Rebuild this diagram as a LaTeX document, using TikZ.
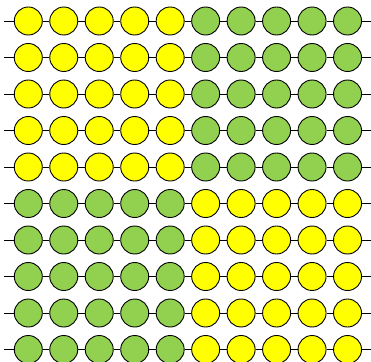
\documentclass[tikz,border=0pt]{standalone}
\definecolor{dotyellow}{HTML}{FFFF00}
\definecolor{dotgreen}{HTML}{92D050}
\begin{document}
\begin{tikzpicture}[x=1pt,y=-1pt,
  dot/.style={circle,draw=black,line width=0.9pt,minimum size=28pt,inner sep=0pt},
  ydot/.style={dot,fill=dotyellow},
  gdot/.style={dot,fill=dotgreen},
  wire/.style={draw=black,line width=0.9pt}]
\useasboundingbox (0,0) rectangle (371,361);
\foreach \r in {1,...,10}{
  \pgfmathsetmacro{\yy}{21+36.5*(\r-1)}
  \coordinate (s\r) at (4,\yy);
  \coordinate (e\r) at (372,\yy);
  \foreach \c in {1,...,10}{
    \pgfmathsetmacro{\xx}{28.3+35.47*(\c-1)}
    \pgfmathtruncatemacro{\isy}{(\r<6 && \c<6) || (\r>5 && \c>5) ? 1 : 0}
    \ifnum\isy=1
      \node[ydot] (n\r-\c) at (\xx,\yy) {};
    \else
      \node[gdot] (n\r-\c) at (\xx,\yy) {};
    \fi
  }
  \draw[wire] (s\r) -- (n\r-1);
  \foreach \c [evaluate=\c as \nx using int(\c+1)] in {1,...,9}{
    \draw[wire] (n\r-\c) -- (n\r-\nx);
  }
  \draw[wire] (n\r-10) -- (e\r);
}
\end{tikzpicture}
\end{document}
